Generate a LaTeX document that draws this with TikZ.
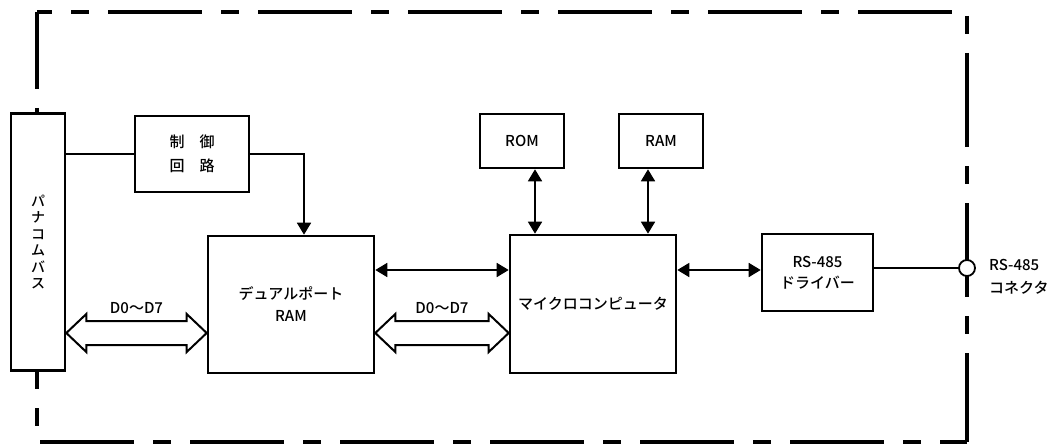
\documentclass[tikz,border=0pt]{standalone}
\usepackage{fontspec}
\setmainfont{Noto Sans CJK JP Medium}
\usetikzlibrary{arrows.meta,calc}
\tikzset{
  >={Triangle[length=12pt,width=14pt]},
  block/.style={draw, line width=2.6pt, fill=white, inner sep=0pt, align=center, font=\fontsize{15}{22}\selectfont},
  link/.style={line width=1.8pt},
  frame/.style={line width=3.3pt, dash pattern=on 94pt off 19pt on 18pt off 19pt},
  busarrow/.style={line width=2pt, fill=white, line join=miter},
  lbl/.style={font=\fontsize{15}{23}\selectfont, inner sep=0pt, align=left},
}

\begin{document}
\begin{tikzpicture}[x=1pt,y=-1pt]

    \useasboundingbox (0,0) rectangle (1053,444);

    \draw[frame, dash phase=79pt] (37,12) -- (967,12) -- (967,442); % ----- Cadre
    \draw[frame, dash phase=17pt] (37,12) -- (37,442) -- (967,442);

    \node[block, minimum width=54pt, minimum height=257pt, font=\fontsize{14}{16.5}\selectfont] (bus) at (38,242) {パ\\ナ\\コ\\ム\\バ\\ス};
    \node[block, minimum width=114pt, minimum height=76pt, font=\fontsize{15}{24}\selectfont] (ctrl) at (192,154) {制　御\\回　路};
    \node[block, minimum width=166pt, minimum height=137pt] (dpram) at (291,304.5) {デュアルポート\\RAM};
    \node[block, minimum width=166pt, minimum height=138pt] (micro) at (593,304) {マイクロコンピュータ};
    \node[block, minimum width=84pt, minimum height=54pt] (rom) at (522,141) {ROM};
    \node[block, minimum width=84pt, minimum height=54pt] (ram) at (661,141) {RAM};
    \node[block, minimum width=111pt, minimum height=77pt, font=\fontsize{15}{21}\selectfont] (drv) at (817.5,272.5) {RS-485\\ドライバー};
    \node[draw, circle, link, fill=white, minimum size=16pt, inner sep=0pt] (jack) at (967,268) {};
    \node[lbl, anchor=west] (jacklbl) at (989,276.5) {RS-485\\コネクタ};

    \draw[link] (bus.east |- ctrl.west) -- (ctrl.west); % ----- Commande
    \draw[link, ->] (ctrl.east) -| (dpram.north -| 304,0);

    \foreach \n/\x in {rom/535, ram/648} % ----- ROM, RAM
        \draw[link, <->] (\n.south -| \x,0) -- (micro.north -| \x,0);

    \draw[link, <->] (dpram.east |- 0,270) -- (micro.west |- 0,270);
    \draw[link, <->] (micro.east |- 0,270) -- (drv.west |- 0,270);
    \draw[link] (drv.east |- jack.west) -- (jack.west);

    \foreach \a/\b/\n in {bus/dpram/da, dpram/micro/db}{% ----- Bus D0-D7
        \coordinate (\n l) at (\a.east |- 0,333);
        \coordinate (\n r) at (\b.west |- 0,333);
        \draw[busarrow] (\n l) -- ++(20,-19) -- ++(0,7) -- ($(\n r)+(-20,-12)$) -- ++(0,-7) -- (\n r)
            -- ++(-20,19) -- ++(0,-7) -- ($(\n l)+(20,12)$) -- ++(0,7) -- cycle;
        \node[lbl] (\n t) at ($(\n l)!0.5!(\n r)+(0,-25)$) {D0～D7};
    }
\end{tikzpicture}
\end{document}
